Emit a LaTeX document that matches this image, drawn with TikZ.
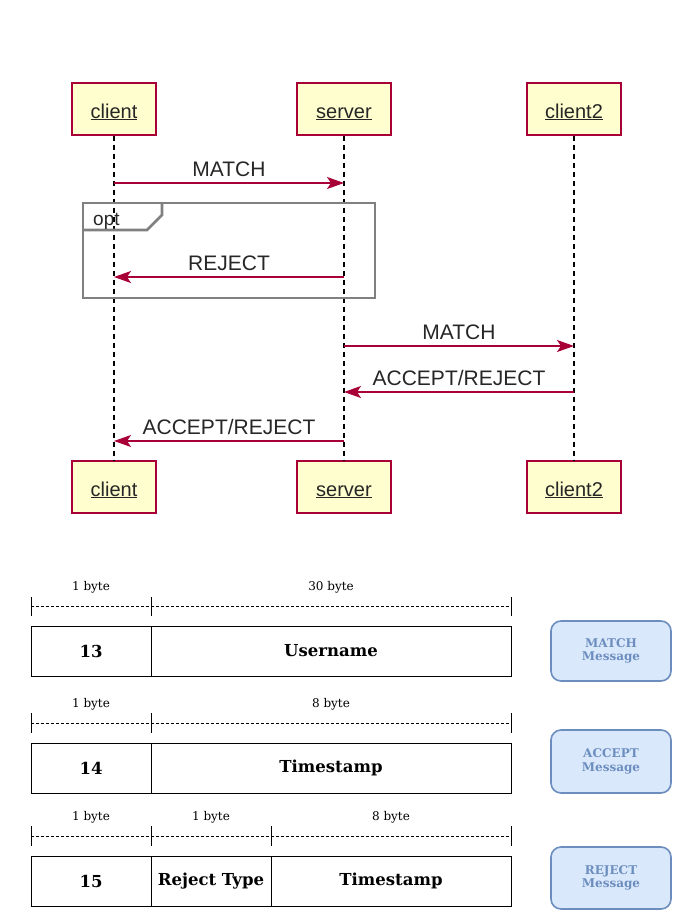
\documentclass[tikz,border=0pt]{standalone}
\usepackage{fontspec}
\setmainfont{DejaVu Serif}
\newfontfamily\umlfont{Liberation Sans}
\usetikzlibrary{arrows.meta}
\definecolor{umlred}{HTML}{A80036}
\definecolor{umlfill}{HTML}{FEFECE}
\definecolor{framegray}{HTML}{808080}
\definecolor{msgfill}{HTML}{DAE8FC}
\definecolor{msgdraw}{HTML}{6C8EBF}
\begin{document}
\begin{tikzpicture}[x=1pt,y=-1pt,
 participant/.style={draw=umlred, line width=1.3pt, fill=umlfill, minimum height=52pt, inner sep=0pt, text height=18pt, text depth=0pt, font=\umlfont\fontsize{20}{24}\selectfont, text=black!85},
 lifeline/.style={dash pattern=on 5pt off 4pt, line width=1.3pt},
 msg/.style={draw=umlred, line width=1.3pt, -{Stealth[length=17pt,width=12pt,inset=4pt]}},
 msglabel/.style={anchor=base, yshift=6.5pt, font=\umlfont\fontsize{21}{25}\selectfont, text=black!85, inner sep=0pt},
 cell/.style={draw, line width=0.8pt, minimum height=50pt, inner sep=0pt, font=\bfseries\fontsize{16.5}{19}\selectfont},
 bytelabel/.style={font=\fontsize{12}{14}\selectfont, inner sep=0pt},
 tickline/.style={line width=0.8pt},
 bytedash/.style={dash pattern=on 3pt off 2pt, line width=0.7pt},
 msgbox/.style={draw=msgdraw, fill=msgfill, line width=1.6pt, rounded corners=10pt, minimum width=120pt, inner sep=0pt, align=center, text=msgdraw, font=\bfseries\fontsize{12}{13.5}\selectfont},
]
\useasboundingbox (0,0) rectangle (692,911);

% participants
\node[participant, minimum width=84pt] (client) at (114,109) {\underline{client}};
\node[participant, minimum width=94pt] (server) at (344,109) {\underline{server}};
\node[participant, minimum width=94pt] (client2) at (574,109) {\underline{client2}};
\node[participant, minimum width=84pt] (clientb) at (114,487) {\underline{client}};
\node[participant, minimum width=94pt] (serverb) at (344,487) {\underline{server}};
\node[participant, minimum width=94pt] (client2b) at (574,487) {\underline{client2}};

% lifelines
\draw[lifeline] (client.south) -- (clientb.north);
\draw[lifeline] (server.south) -- (serverb.north);
\draw[lifeline] (client2.south) -- (client2b.north);

% opt frame
\draw[framegray, line width=2.6pt] (83,203) rectangle (375,298);
\draw[framegray, line width=2.6pt] (83,230) -- (147,230) -- (162,215) -- (162,203);
\node[anchor=base west, inner sep=0pt, font=\umlfont\fontsize{19}{22}\selectfont, text=black!85] (opt) at (93,225) {opt};

% messages
\coordinate (m1a) at (client.south |- 0,183);
\coordinate (m1b) at (server.south |- 0,183);
\draw[msg] (m1a) -- node[msglabel]{MATCH} (m1b);

\coordinate (m2a) at (server.south |- 0,277);
\coordinate (m2b) at (client.south |- 0,277);
\draw[msg] (m2a) -- node[msglabel]{REJECT} (m2b);

\coordinate (m3a) at (server.south |- 0,346);
\coordinate (m3b) at (client2.south |- 0,346);
\draw[msg] (m3a) -- node[msglabel]{MATCH} (m3b);

\coordinate (m4a) at (client2.south |- 0,392);
\coordinate (m4b) at (server.south |- 0,392);
\draw[msg] (m4a) -- node[msglabel]{ACCEPT/REJECT} (m4b);

\coordinate (m5a) at (server.south |- 0,441);
\coordinate (m5b) at (client.south |- 0,441);
\draw[msg] (m5a) -- node[msglabel]{ACCEPT/REJECT} (m5b);

% ---- row 1
\node[bytelabel] (b1a) at (91,587) {1 byte};
\node[bytelabel] (b1b) at (331,587) {30 byte};
\draw[tickline] (31,597) -- (31,616) (151,597) -- (151,616) (511,597) -- (511,616);
\draw[bytedash] (31,606) -- (511,606);
\node[cell, minimum width=120pt] (r1a) at (91,651) {13};
\node[cell, minimum width=360pt] (r1b) at (331,651) {Username};
\node[msgbox, minimum height=60pt] (mm) at (611,651) {MATCH\\Message};

% ---- row 2
\node[bytelabel] (b2a) at (91,704) {1 byte};
\node[bytelabel] (b2b) at (331,704) {8 byte};
\draw[tickline] (31,713) -- (31,733) (151,713) -- (151,733) (511,713) -- (511,733);
\draw[bytedash] (31,723) -- (511,723);
\node[cell, minimum width=120pt] (r2a) at (91,768) {14};
\node[cell, minimum width=360pt] (r2b) at (331,768) {Timestamp};
\node[msgbox, minimum height=63pt] (ma) at (611,761.5) {ACCEPT\\Message};

% ---- row 3
\node[bytelabel] (b3a) at (91,817) {1 byte};
\node[bytelabel] (b3b) at (211,817) {1 byte};
\node[bytelabel] (b3c) at (391,817) {8 byte};
\draw[tickline] (31,826) -- (31,846) (151,826) -- (151,846) (271,826) -- (271,846) (511,826) -- (511,846);
\draw[bytedash] (31,836) -- (511,836);
\node[cell, minimum width=120pt] (r3a) at (91,881) {15};
\node[cell, minimum width=120pt] (r3b) at (211,881) {Reject Type};
\node[cell, minimum width=240pt] (r3c) at (391,881) {Timestamp};
\node[msgbox, minimum height=62pt] (mr) at (611,878) {REJECT\\Message};
\end{tikzpicture}
\end{document}
